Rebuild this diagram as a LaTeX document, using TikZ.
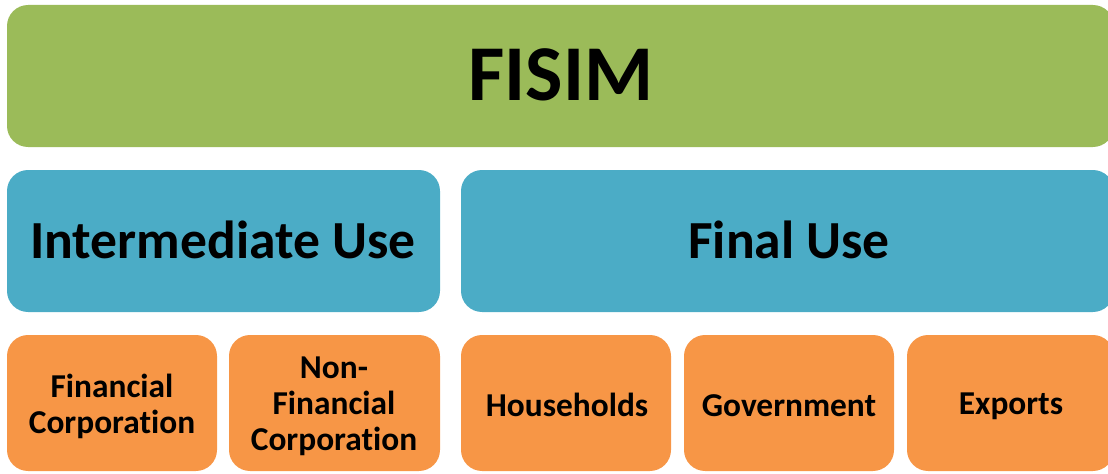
\documentclass[tikz,border=0pt]{standalone}
\usepackage{fontspec}
\setmainfont{Carlito}[Ligatures=NoCommon]
\usetikzlibrary{calc}
\definecolor{fisimgreen}{HTML}{9BBB59}
\definecolor{useblue}{HTML}{4BACC6}
\definecolor{sectororange}{HTML}{F79646}
\tikzset{
	tile/.style={rounded corners=12, draw=none},
	tiletext/.style={font=\bfseries, align=center, text=black, inner sep=0pt}
}
\newcommand{\tile}[5] % x1, y1, x2, y2, colour (in px)
{
	\fill[tile, #5] (#1,#2) rectangle (#3,#4);
}

\begin{document}
\begin{tikzpicture}[x=0.02cm, y=-0.02cm]
	% page: 1108 x 473 px
	\useasboundingbox (0,0) rectangle (1108,473);
	\begin{scope}
	\clip (0,0) rectangle (1108,473);
	% top bar
	\tile{7}{5}{1114}{147}{fisimgreen};
	% use rows
	\tile{7}{170}{440}{312}{useblue};
	\tile{461}{170}{1114}{312}{useblue};
	% sectors
	\tile{7}{335}{217}{471}{sectororange};
	\tile{229}{335}{440}{471}{sectororange};
	\tile{461}{335}{671}{471}{sectororange};
	\tile{684}{335}{894}{471}{sectororange};
	\tile{907}{335}{1114}{471}{sectororange};
	\end{scope}

	\node[tiletext, font=\fontsize{45}{50}\selectfont\bfseries] (fisim) at (561,75) {FISIM};

	\node[tiletext, font=\fontsize{30.5}{34}\selectfont\bfseries] (intermediate) at (223,240) {Intermediate Use};
	\node[tiletext, font=\fontsize{30.5}{34}\selectfont\bfseries] (final) at (789,240) {Final Use};

	\node[tiletext, font=\fontsize{19}{20.5}\selectfont\bfseries] (fincorp) at (112,406) {Financial\\Corporation};
	\node[tiletext, font=\fontsize{19}{20.5}\selectfont\bfseries] (nonfincorp) at (334,406) {Non-\\Financial\\Corporation};
	\node[tiletext, font=\fontsize{19}{20.5}\selectfont\bfseries] (households) at (567,405) {Households};
	\node[tiletext, font=\fontsize{19}{20.5}\selectfont\bfseries] (government) at (789,406) {Government};
	\node[tiletext, font=\fontsize{19}{20.5}\selectfont\bfseries] (exports) at (1011,406) {Exports};
\end{tikzpicture}
\end{document}
